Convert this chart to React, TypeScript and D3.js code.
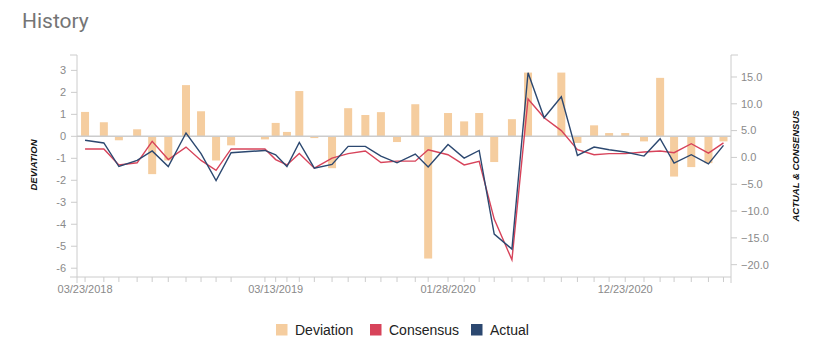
import React from "react";
import * as d3 from "d3";

const dates = [
  "2018-03-23","2018-04-27","2018-05-25","2018-06-28","2018-07-26","2018-08-25","2018-09-27","2018-10-25","2018-11-22","2018-12-20",
  "2019-02-21","2019-03-13","2019-04-03","2019-04-26","2019-05-24","2019-06-26","2019-07-26","2019-08-27","2019-09-25","2019-10-25",
  "2019-11-28","2019-12-22","2020-01-28","2020-02-27","2020-03-26","2020-04-23","2020-05-26","2020-06-25","2020-07-25","2020-08-26",
  "2020-09-25","2020-10-26","2020-11-23","2020-12-23","2021-01-27","2021-02-26","2021-03-24","2021-04-25","2021-05-27","2021-06-24",
];
const labelDates = ["2018-03-23", "2019-03-13", "2020-01-28", "2020-12-23"];
const deviation = [1.11,0.64,-0.18,0.32,-1.72,-1.1,2.33,1.14,-1.1,-0.41,-0.14,0.61,0.2,2.06,-0.08,-1.45,1.28,0.97,1.1,-0.26,1.46,-5.56,1.06,0.68,1.06,-1.17,0.78,2.9,0,2.9,-0.3,0.5,0.15,0.15,-0.23,2.66,-1.83,-1.4,-1.22,-0.23];
const consensus = [1.56,1.56,-1.4,-1.0,3.0,-0.4,1.93,-0.56,-2.4,1.6,1.56,-0.4,-1.4,0.75,-2.0,-0.13,0.7,1.2,-0.94,-0.7,-0.7,1.43,0.5,-1.4,-0.75,-11.5,-19.1,10.9,7.4,5.0,1.43,0.5,0.7,0.7,1.0,1.2,0.88,2.56,0.8,2.7];
const actual = [3.2,2.7,-1.7,-0.56,1.2,-1.7,4.55,0.7,-4.3,0.88,1.3,0.5,-1.7,2.8,-2.0,-1.3,2.06,2.06,0.25,-1.0,0.62,-1.8,2.4,-0.13,1.3,-14.3,-17.1,15.8,7.4,11.3,0.37,1.93,1.43,1.0,0.25,3.5,-1.07,0.5,-1.2,2.25];
const leftTicks = [3, 2, 1, 0, -1, -2, -3, -4, -5, -6];
const rightTicks = [15, 10, 5, 0, -5, -10, -15, -20];
const legendItems = ["Deviation", "Consensus", "Actual"];

const COLORS: Record<string, string> = {
  Deviation: "#f5cd9f",
  Consensus: "#d7435a",
  Actual: "#2c4870",
};

export default function App() {
  const parse = d3.timeParse("%Y-%m-%d");
  const fmt = d3.timeFormat("%m/%d/%Y");
  const pts = dates.map((d) => parse(d) as Date);
  const left = 77, right = 731, top = 55, bottom = 277;
  const x = d3
    .scaleTime()
    .domain([parse("2018-03-08") as Date, parse("2021-07-08") as Date])
    .range([left, right]);
  const yL = d3.scaleLinear().domain([-6.4, 3.7]).range([bottom, top]);
  const yR = d3.scaleLinear().domain([-22.3, 19.1]).range([bottom, top]);
  const line = (vals: number[]) =>
    d3
      .line<number>()
      .x((_, i) => x(pts[i]))
      .y((v) => yR(v))(vals) as string;
  const axisColor = "#cccccc";
  const tickText = "#8a8a8a";
  const font = "'Liberation Sans', Arial, sans-serif";
  const barW = 8;

  return (
    <svg
      width={834}
      height={358}
      style={{ position: "absolute", left: 0, top: 0, background: "#fff" }}
    >
      <text x={22} y={28} fontFamily="Roboto, sans-serif" fontSize={21} fill="#757575">
        History
      </text>

      {/* bars */}
      {deviation.map((v, i) => (
        <rect
          key={i}
          x={x(pts[i]) - barW / 2}
          y={Math.min(yL(v), yL(0))}
          width={barW}
          height={Math.abs(yL(v) - yL(0))}
          fill={COLORS.Deviation}
        />
      ))}

      {/* zero line */}
      <line x1={left} x2={right} y1={yL(0)} y2={yL(0)} stroke={axisColor} strokeWidth={1.5} />

      {/* lines */}
      <path d={line(consensus)} fill="none" stroke={COLORS.Consensus} strokeWidth={1.4} />
      <path d={line(actual)} fill="none" stroke={COLORS.Actual} strokeWidth={1.4} />

      {/* left axis */}
      <line x1={left} x2={left} y1={top} y2={bottom} stroke={axisColor} />
      <line x1={left - 7} x2={left} y1={top} y2={top} stroke={axisColor} />
      {leftTicks.map((t) => (
        <g key={t}>
          <line x1={left - 6} x2={left} y1={yL(t)} y2={yL(t)} stroke={axisColor} />
          <text
            x={66}
            y={yL(t)}
            dy="0.35em"
            textAnchor="end"
            fontFamily={font}
            fontSize={11}
            fill={tickText}
          >
            {t}
          </text>
        </g>
      ))}

      {/* right axis */}
      <line x1={right} x2={right} y1={top} y2={bottom} stroke={axisColor} />
      <line x1={right} x2={right + 7} y1={top} y2={top} stroke={axisColor} />
      {rightTicks.map((t) => (
        <g key={t}>
          <line x1={right} x2={right + 6} y1={yR(t)} y2={yR(t)} stroke={axisColor} />
          <text
            x={741}
            y={yR(t)}
            dy="0.35em"
            textAnchor="start"
            fontFamily={font}
            fontSize={11}
            fill={tickText}
          >
            {d3.format(".1f")(t)}
          </text>
        </g>
      ))}

      {/* bottom axis */}
      <line x1={left - 7} x2={right} y1={bottom} y2={bottom} stroke={axisColor} />
      <line x1={left} x2={left} y1={bottom} y2={bottom + 6} stroke={axisColor} />
      <line x1={right} x2={right} y1={bottom} y2={bottom + 6} stroke={axisColor} />
      {pts.map((p, i) => (
        <line key={i} x1={x(p)} x2={x(p)} y1={bottom} y2={bottom + 5} stroke={axisColor} />
      ))}
      {labelDates.map((d) => {
        const p = parse(d) as Date;
        return (
          <text
            key={d}
            x={x(p)}
            y={293}
            textAnchor="middle"
            fontFamily={font}
            fontSize={11}
            fill={tickText}
          >
            {fmt(p)}
          </text>
        );
      })}

      {/* axis titles */}
      <text
        transform="translate(37,165) rotate(-90)"
        textAnchor="middle"
        fontFamily={font}
        fontSize={9.5}
        fontWeight="bold"
        fontStyle="italic"
        fill="#111"
      >
        DEVIATION
      </text>
      <text
        transform="translate(799,166) rotate(-90)"
        textAnchor="middle"
        fontFamily={font}
        fontSize={9.5}
        fontWeight="bold"
        fontStyle="italic"
        fill="#111"
      >
        ACTUAL &amp; CONSENSUS
      </text>

      {/* legend */}
      {legendItems.map((name, i) => {
        const lx = [276, 370, 471][i];
        return (
          <g key={name}>
            <rect x={lx} y={324} width={11.5} height={11.5} fill={COLORS[name]} />
            <text x={lx + 19} y={334.5} fontFamily={font} fontSize={14} fill="#222">
              {name}
            </text>
          </g>
        );
      })}
    </svg>
  );
}
